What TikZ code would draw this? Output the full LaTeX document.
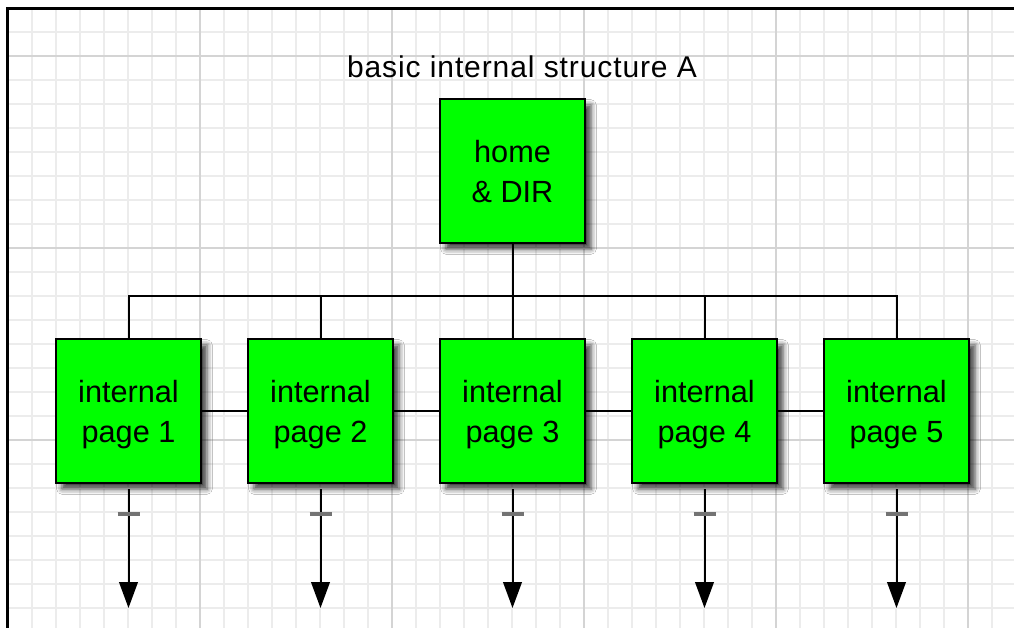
\documentclass[tikz,border=0pt]{standalone}
\usepackage{fontspec}
\setmainfont{Liberation Sans}
\usetikzlibrary{arrows.meta,shadows.blur}
\definecolor{boxgreen}{RGB}{0,255,0}
\definecolor{minorgrid}{RGB}{236,236,236}
\definecolor{majorgrid}{RGB}{212,212,212}
\newcommand{\boxfont}{\fontsize{23pt}{30pt}\selectfont}
\newcommand{\titlefont}{\fontsize{22.5pt}{27pt}\selectfont\addfontfeatures{LetterSpace=3.0}}
\begin{document}
\begin{tikzpicture}[x=0.75pt,y=-0.75pt,
  minor/.style={draw=minorgrid, line width=1.1pt},
  major/.style={draw=majorgrid, line width=1.3pt},
  pagebox/.style={draw=black, line width=1.6pt, fill=boxgreen,
    minimum width=108.75pt, minimum height=108pt, inner sep=0pt,
    align=center, font=\boxfont, text height=46.5pt, text depth=0pt,
    blur shadow={shadow xshift=4.5pt, shadow yshift=-4.5pt, shadow blur radius=4pt, shadow opacity=75}},
  conn/.style={draw=black, line width=1.5pt},
  arrowconn/.style={conn, shorten <=3.75pt, -{Triangle[length=19.5pt,width=14pt]}},
  tickmark/.style={draw=black!55, line width=2.4pt},
  titlelabel/.style={font=\titlefont, anchor=base, inner sep=0pt}
  ]
\useasboundingbox (0,0) rectangle (1014,628);
\fill[white] (0,0) rectangle (1014,628);
% grid
\foreach \x in {32,56,...,1012} \draw[minor] (\x,9) -- (\x,628);
\foreach \y in {32,56,...,628} \draw[minor] (8,\y) -- (1014,\y);
\foreach \x in {200,392,584,776,968} \draw[major] (\x,9) -- (\x,628);
\foreach \y in {56,248,440} \draw[major] (8,\y) -- (1014,\y);
% frame
\draw[black, line width=2pt] (7.3,628) -- (7.3,8.7) -- (1014,8.7);
% title
\node[titlelabel] (title) at (522,77) {basic internal structure A};
% boxes
\node[pagebox] (home) at (512.5,171) {home\\\& DIR};
\foreach \i in {1,...,5} {
  \node[pagebox] (p\i) at ({128.5+192*(\i-1)},411) {internal\\page \i};
}
% tree connectors
\coordinate (bus) at (512.5,296);
\draw[conn] (home.south) -- (p3.north);
\draw[conn] (p1.north) |- (bus) -| (p5.north);
\draw[conn] (p2.north) -- (p2.north |- bus);
\draw[conn] (p4.north) -- (p4.north |- bus);
% horizontal neighbours
\draw[conn] (p1.east) -- (p2.west);
\draw[conn] (p2.east) -- (p3.west);
\draw[conn] (p3.east) -- (p4.west);
\draw[conn] (p4.east) -- (p5.west);
% outgoing arrows
\foreach \i in {1,...,5} {
  \coordinate (e\i) at ({128.5+192*(\i-1)},608);
  \draw[arrowconn] (p\i.south) -- (e\i);
  \draw[tickmark] ([xshift=-8.25pt,yshift=-22.5pt]p\i.south) -- ++(22,0);
}
\end{tikzpicture}
\end{document}
